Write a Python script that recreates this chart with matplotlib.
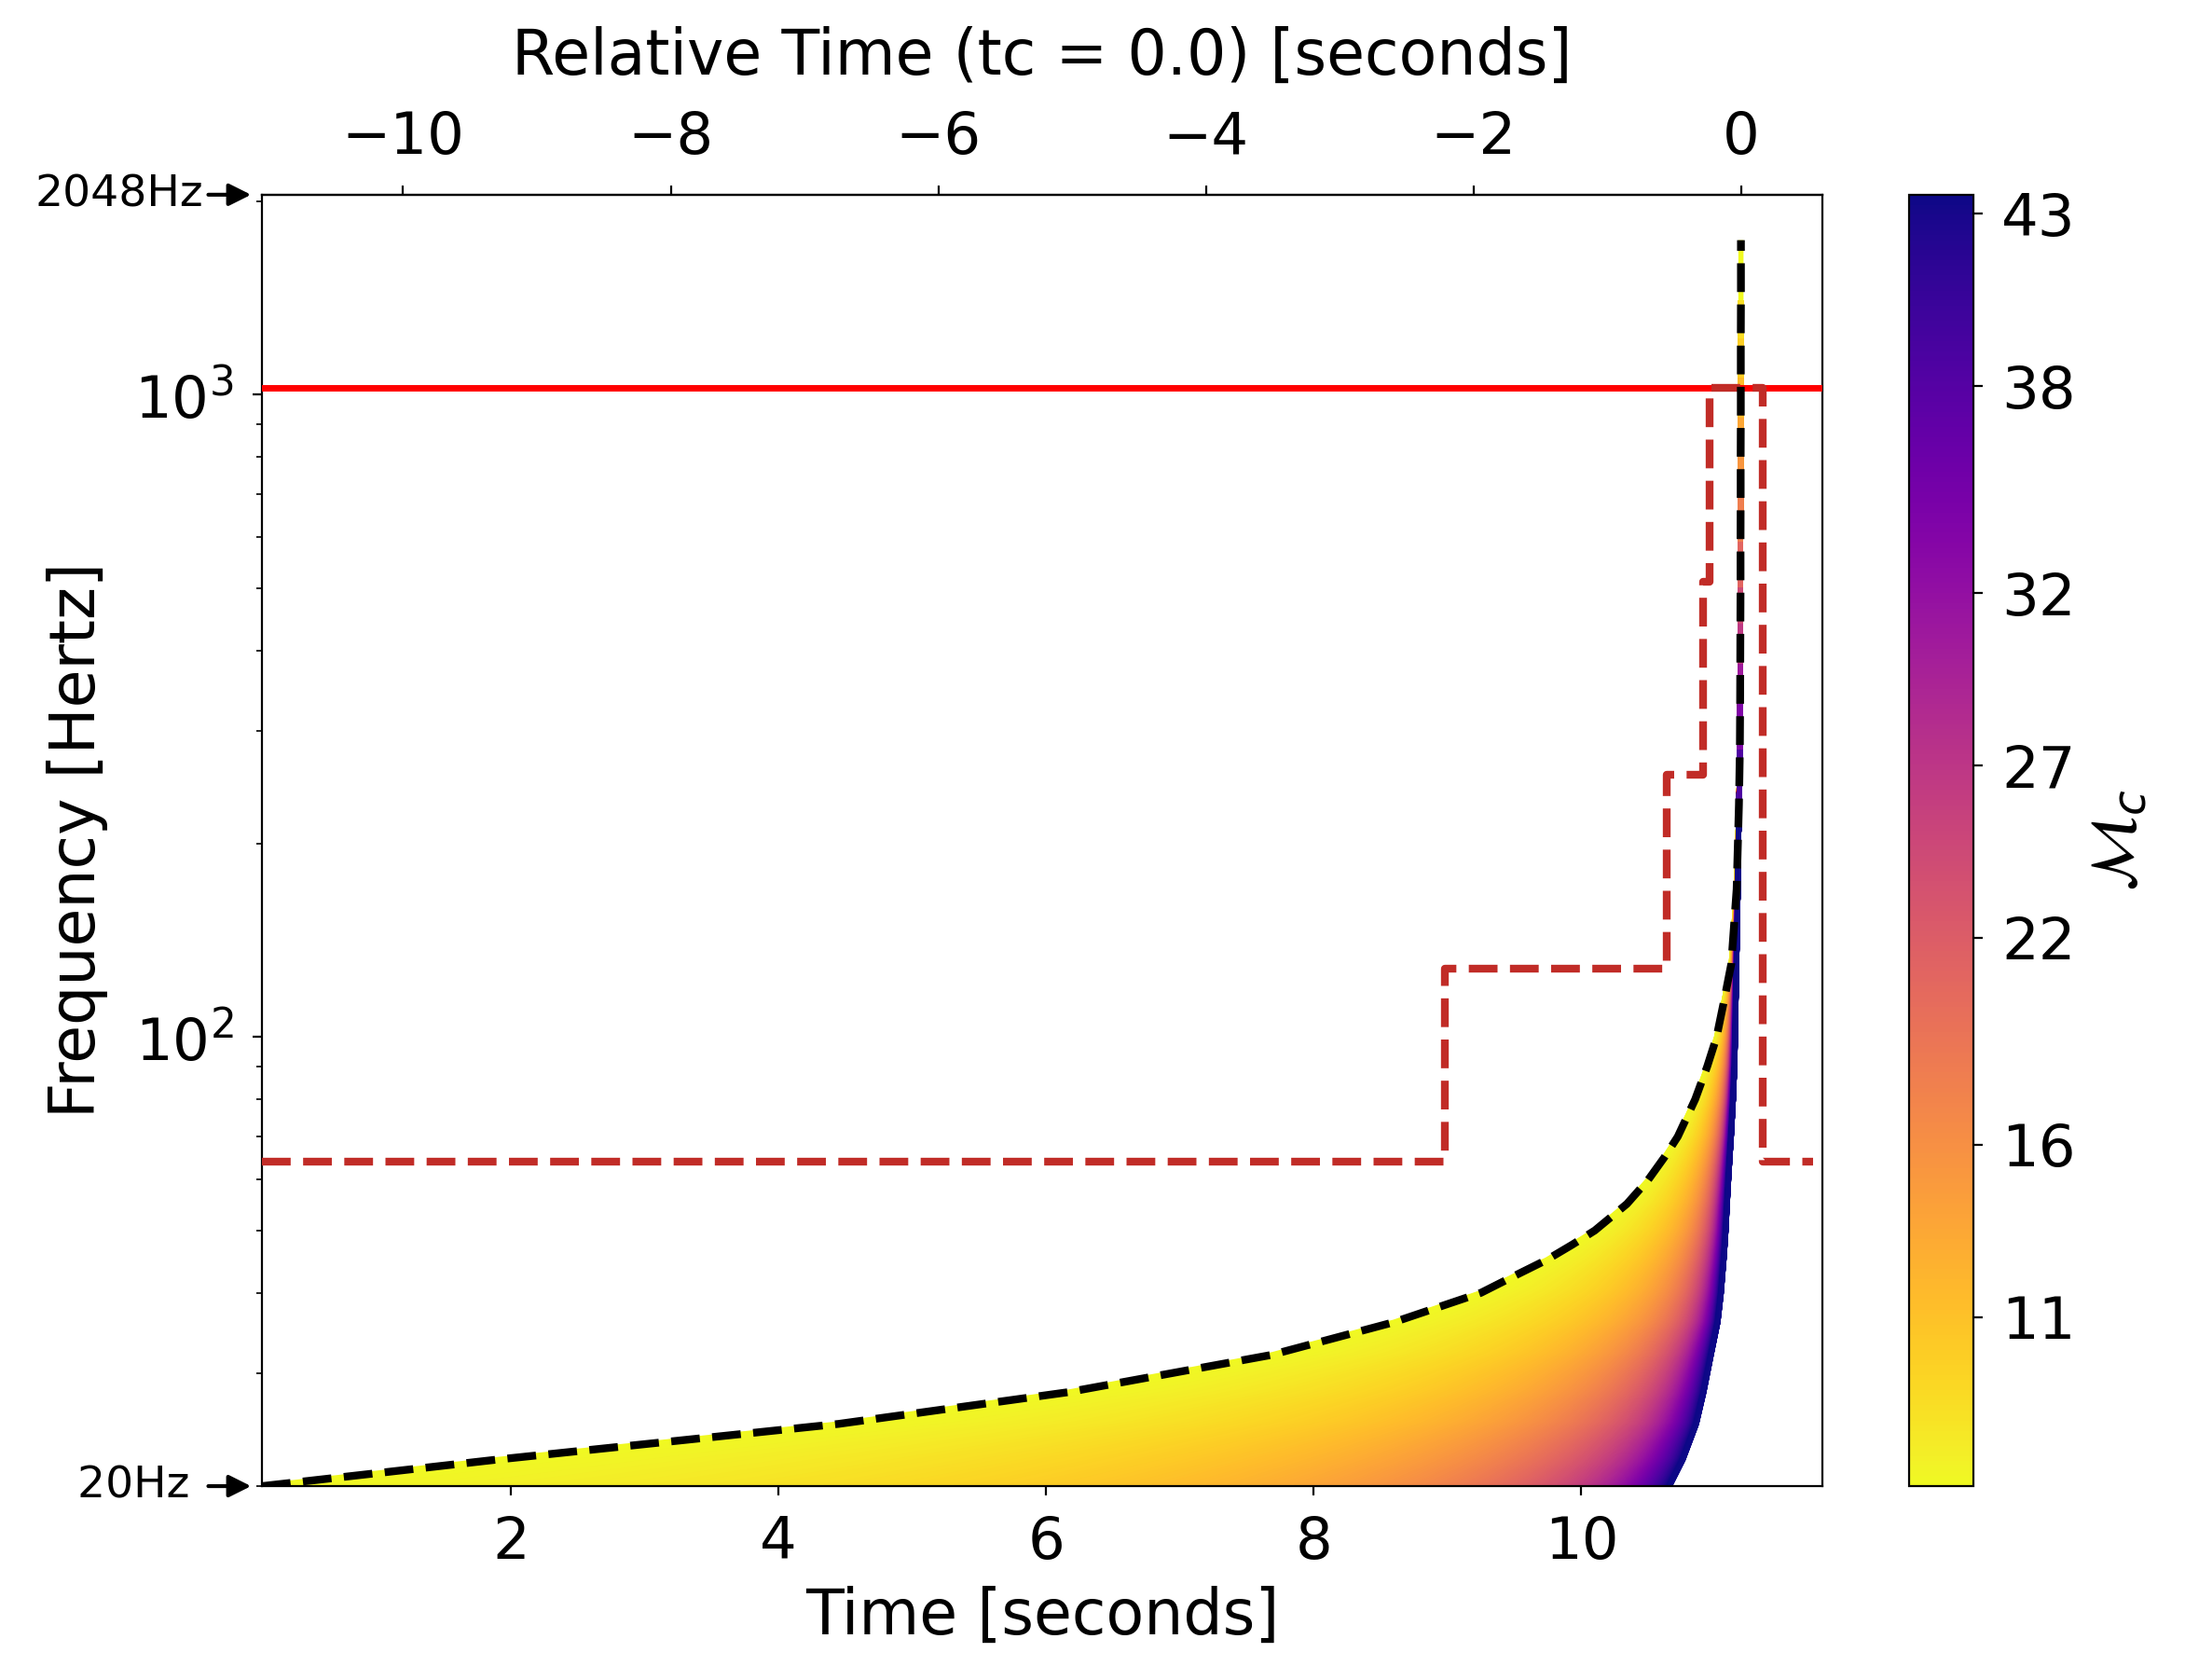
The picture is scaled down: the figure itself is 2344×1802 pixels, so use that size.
"""
Chirp tracks of compact-binary templates in the time-frequency plane,
coloured by chirp mass, with the lightest track dashed, the 1024 Hz
line and the stepped sample-rate band boundary.

Output: out.png
"""

import numpy as np
import matplotlib
matplotlib.use("Agg")
import matplotlib.pyplot as plt
from matplotlib.collections import LineCollection
from matplotlib.colors import Normalize
from matplotlib.cm import ScalarMappable

matplotlib.rcParams.update({
    "font.family": "DejaVu Sans",
    "xtick.labelsize": 22.5,
    "ytick.labelsize": 22.5,
    "xtick.major.pad": 7.5,
    "ytick.major.pad": 7.5,
    "axes.labelsize": 24,
})

# ============================== DATA ==============================
TC = 11.195  # coalescence time on the bottom axis [s]

# frequencies at which the two edge tracks were read [Hz]
TRACK_FREQ = [20, 22, 25, 28, 32, 36, 40, 42.5, 45, 47.5, 50, 55, 60, 65, 70, 80, 90, 100,
              115, 130, 170, 230, 280, 330, 380, 440, 500, 590, 700, 800, 920,
              1060, 1220, 1400, 1740]
# lightest chirp mass (black dashed track), time [s]
TRACK_T_LIGHT = [0.14, 1.90, 4.45, 6.16, 7.68, 8.60, 9.25, 9.50, 9.74, 9.93, 10.10, 10.34,
                 10.50, 10.62, 10.72, 10.85, 10.94, 11.01, 11.07, 11.12, 11.16, 11.177,
                 11.184, 11.186, 11.187, 11.188, 11.189, 11.189, 11.190, 11.190, 11.191,
                 11.191, 11.191, 11.192, 11.192]
# heaviest chirp mass (dark purple edge), time [s]
TRACK_T_HEAVY = [10.66, 10.76, 10.86, 10.915, 10.97, 11.02, 11.045, 11.055, 11.065, 11.073,
                 11.08, 11.09, 11.10, 11.11, 11.12, 11.135, 11.145, 11.15, 11.155, 11.16,
                 11.17, 11.178, 11.184, 11.186, 11.187, 11.188, 11.189, 11.189, 11.190,
                 11.190, 11.191, 11.191, 11.191, 11.192, 11.192]

# chirp-mass range of the colour bar, and its ticks
MC_MIN, MC_MAX = 6.1, 43.55
MC_TICKS = [11, 16, 22, 27, 32, 38, 43]
# highest frequency reached by a track of a given chirp mass
END_MC = [6.1, 9.8, 11.7, 15.5, 21.0, 26.7, 34.0, 38.0, 43.55]
END_FREQ = [1740, 1220, 1060, 790, 590, 440, 330, 285, 245]

# stepped band boundary (red dashed): edges [s] and levels [Hz]
STEP_EDGES = [0.14, 8.98, 10.635, 10.91, 10.955, 11.355, 11.73]
STEP_FREQS = [64, 128, 256, 512, 1024, 64]

NYQUIST_LINE = 1024
F_LOW, F_HIGH = 20, 2048
X_LIM = (0.14, 11.80)
N_TRACKS = 1200
# ==========================================================================================


fig = plt.figure(figsize=(11.72, 9.01), dpi=200)
ax = fig.add_axes([0.1199, 0.1154, 0.7141, 0.7687])
cax = fig.add_axes([0.8737, 0.1154, 0.0294, 0.7687])

norm = Normalize(vmin=MC_MIN, vmax=MC_MAX)

# one track per chirp mass, drawn light -> heavy so heavier ones sit on top
f_grid = np.array(TRACK_FREQ, dtype=float)
tau_light = np.maximum(TC - np.array(TRACK_T_LIGHT), 1e-3)
tau_heavy = np.maximum(TC - np.array(TRACK_T_HEAVY), 1e-3)
mc_values = np.linspace(MC_MIN, MC_MAX, N_TRACKS)
segs = []
for mc in mc_values:
    w = np.log(mc / MC_MIN) / np.log(MC_MAX / MC_MIN)
    tau = tau_light ** (1 - w) * tau_heavy ** w
    keep = f_grid <= np.interp(mc, END_MC, END_FREQ)
    segs.append(np.column_stack([TC - tau[keep], f_grid[keep]]))
lc = LineCollection(segs, cmap="plasma_r", norm=norm, linewidths=2.0, zorder=2)
lc.set_array(mc_values)
ax.add_collection(lc)

ax.axhline(NYQUIST_LINE, color="red", lw=2.5, zorder=3)

step_x = STEP_EDGES
step_y = STEP_FREQS + [STEP_FREQS[-1]]
ax.plot(step_x, step_y, drawstyle="steps-post", ls="--", color="#c12c27", lw=3, zorder=4)

ax.plot(TRACK_T_LIGHT, TRACK_FREQ, ls="--", color="black", lw=3, zorder=5)

ax.set_yscale("log")
ax.set_ylim(F_LOW, F_HIGH)
ax.set_xlim(*X_LIM)
ax.set_xlabel("Time [seconds]", labelpad=6)
ax.set_ylabel("Frequency [Hertz]", labelpad=10)

top = ax.secondary_xaxis("top", functions=(lambda t: t - TC, lambda r: r + TC))
top.set_xlabel("Relative Time (tc = 0.0) [seconds]", fontsize=24, labelpad=14)
top.tick_params(labelsize=22.5, pad=7.5)

arrow = dict(arrowstyle="-|>", color="black", lw=1.5, mutation_scale=18,
             shrinkA=0, shrinkB=0)
ax.annotate("2048Hz", xy=(-0.007, 1.0), xycoords="axes fraction",
            xytext=(-18.5, 0), textcoords="offset points",
            ha="right", va="center", fontsize=17, arrowprops=arrow)
ax.annotate("20Hz ", xy=(-0.007, 0.0), xycoords="axes fraction",
            xytext=(-18.5, 0), textcoords="offset points",
            ha="right", va="center", fontsize=17, arrowprops=arrow)

cbar = fig.colorbar(ScalarMappable(norm=norm, cmap="plasma_r"), cax=cax, ticks=MC_TICKS)
cbar.ax.set_yticklabels([str(t) for t in MC_TICKS])
cbar.ax.tick_params(labelsize=22.5, pad=7.5)
cbar.set_label(r"$\mathcal{M}_c$", fontsize=25)

fig.savefig("out.png", dpi=200)
